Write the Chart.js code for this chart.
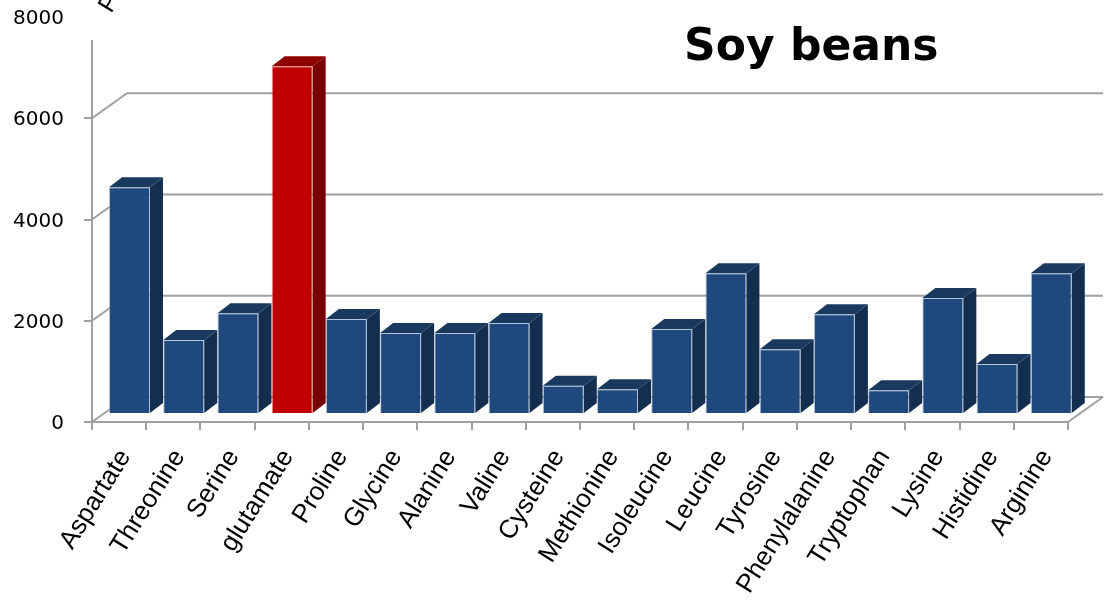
<!DOCTYPE html>
<html>
<head>
<meta charset="utf-8">
<script src="https://cdn.jsdelivr.net/npm/chart.js@4.4.0/dist/chart.umd.min.js"></script>
<style>
html, body { margin: 0; padding: 0; background: #fff; }
</style>
</head>
<body>
<canvas id="soyChart" width="1110" height="602"></canvas>
<script>
// amino acid content, soy beans
const aminoAcids = ['Aspartate', 'Threonine', 'Serine', 'glutamate', 'Proline', 'Glycine',
    'Alanine', 'Valine', 'Cysteine', 'Methionine', 'Isoleucine', 'Leucine', 'Tyrosine',
    'Phenylalanine', 'Tryptophan', 'Lysine', 'Histidine', 'Arginine'];
const soyValues = [4480, 1460, 1990, 6870, 1875, 1600, 1600, 1800, 560, 490, 1680, 2780,
    1280, 1970, 470, 2290, 990, 2780];
const yTicks = [0, 2000, 4000, 6000, 8000];
const highlight = 'glutamate';

// 3d look
const wallDepth = { x: 35, y: -25 };
const barShift = { x: 10.4, y: -8 };
const barDepth = { x: 13, y: -10 };
const gridGray = '#a0a0a0';

const frontColors = aminoAcids.map(a => a === highlight ? '#C00000' : '#1F497D');
const sideColors = aminoAcids.map(a => a === highlight ? '#780000' : '#142E50');
const topColors = aminoAcids.map(a => a === highlight ? '#8F0000' : '#19395F');

const threeD = {
    id: 'threeD',
    beforeDatasetsDraw(chart) {
        const { ctx, chartArea: a, scales: { y } } = chart;
        ctx.save();
        ctx.strokeStyle = gridGray;
        ctx.lineWidth = 2;
        // back wall grid lines + floor
        yTicks.slice(0, -1).forEach(v => {
            const py = y.getPixelForValue(v);
            ctx.beginPath();
            ctx.moveTo(a.left, py);
            ctx.lineTo(a.left + wallDepth.x, py + wallDepth.y);
            ctx.lineTo(a.right + wallDepth.x, py + wallDepth.y);
            ctx.stroke();
        });
        const y0 = y.getPixelForValue(0);
        ctx.beginPath();
        ctx.moveTo(a.left, y0);
        ctx.lineTo(a.right, y0);
        ctx.lineTo(a.right + wallDepth.x, y0 + wallDepth.y);
        ctx.stroke();
        // vertical axis
        ctx.beginPath();
        ctx.moveTo(a.left, 40);
        ctx.lineTo(a.left, y0);
        ctx.stroke();
        ctx.restore();

        ctx.save();
        ctx.translate(barShift.x, barShift.y);
    },
    afterDatasetsDraw(chart) {
        const ctx = chart.ctx;
        const meta = chart.getDatasetMeta(0);
        meta.data.forEach((bar, i) => {
            const { x, y, base, width } = bar.getProps(['x', 'y', 'base', 'width'], true);
            const l = x - width / 2, r = x + width / 2;
            ctx.fillStyle = topColors[i];
            ctx.beginPath();
            ctx.moveTo(l, y);
            ctx.lineTo(r, y);
            ctx.lineTo(r + barDepth.x, y + barDepth.y);
            ctx.lineTo(l + barDepth.x, y + barDepth.y);
            ctx.closePath();
            ctx.fill();
            ctx.fillStyle = sideColors[i];
            ctx.beginPath();
            ctx.moveTo(r, y);
            ctx.lineTo(r + barDepth.x, y + barDepth.y);
            ctx.lineTo(r + barDepth.x, base + barDepth.y);
            ctx.lineTo(r, base);
            ctx.closePath();
            ctx.fill();
        });
        ctx.restore();
    },
    afterDraw(chart) {
        const ctx = chart.ctx;
        ctx.save();
        ctx.fillStyle = '#000';
        ctx.font = 'bold 44px "DejaVu Sans"';
        ctx.textBaseline = 'alphabetic';
        ctx.fillText('Soy beans', 684, 60);
        // cut-off axis title
        ctx.translate(111, 14);
        ctx.rotate(-58 * Math.PI / 180);
        ctx.font = '25px "Liberation Sans"';
        ctx.fillText('P', 0, 0);
        ctx.restore();
    }
};

new Chart(document.getElementById('soyChart'), {
    type: 'bar',
    data: {
        labels: aminoAcids,
        datasets: [{
            data: soyValues,
            backgroundColor: frontColors,
            borderColor: aminoAcids.map(a => a === highlight ? 'rgba(230,90,90,0.6)' : 'rgba(130,160,200,0.6)'),
            borderWidth: 1,
            barPercentage: 1,
            categoryPercentage: 0.756
        }]
    },
    options: {
        responsive: false,
        animation: false,
        layout: { autoPadding: false, padding: { top: 17, right: 42, left: 0, bottom: 0 } },
        plugins: {
            legend: { display: false },
            tooltip: { enabled: false }
        },
        scales: {
            x: {
                afterFit: s => { s.height = 180; s.paddingLeft = 0; s.paddingRight = 0; },
                border: { display: false },
                grid: { drawOnChartArea: false, tickLength: 8, color: gridGray, lineWidth: 2 },
                ticks: {
                    minRotation: 58, maxRotation: 58, autoSkip: false,
                    labelOffset: 6, padding: 14,
                    color: '#000',
                    font: { family: 'Liberation Sans', size: 26 }
                }
            },
            y: {
                min: 0, max: 8000,
                afterFit: s => { s.width = 92; s.paddingTop = 0; s.paddingBottom = 0; },
                afterBuildTicks: s => { s.ticks = yTicks.map(v => ({ value: v })); },
                border: { display: false },
                grid: {
                    drawOnChartArea: false, tickLength: 8, lineWidth: 2,
                    color: c => c.tick && c.tick.value === 8000 ? 'rgba(0,0,0,0)' : gridGray
                },
                ticks: {
                    padding: 20,
                    labelOffset: 2,
                    color: '#000',
                    font: { family: 'DejaVu Sans', size: 20 },
                    callback: v => String(v)
                }
            }
        }
    },
    plugins: [threeD]
});
</script>
</body>
</html>
